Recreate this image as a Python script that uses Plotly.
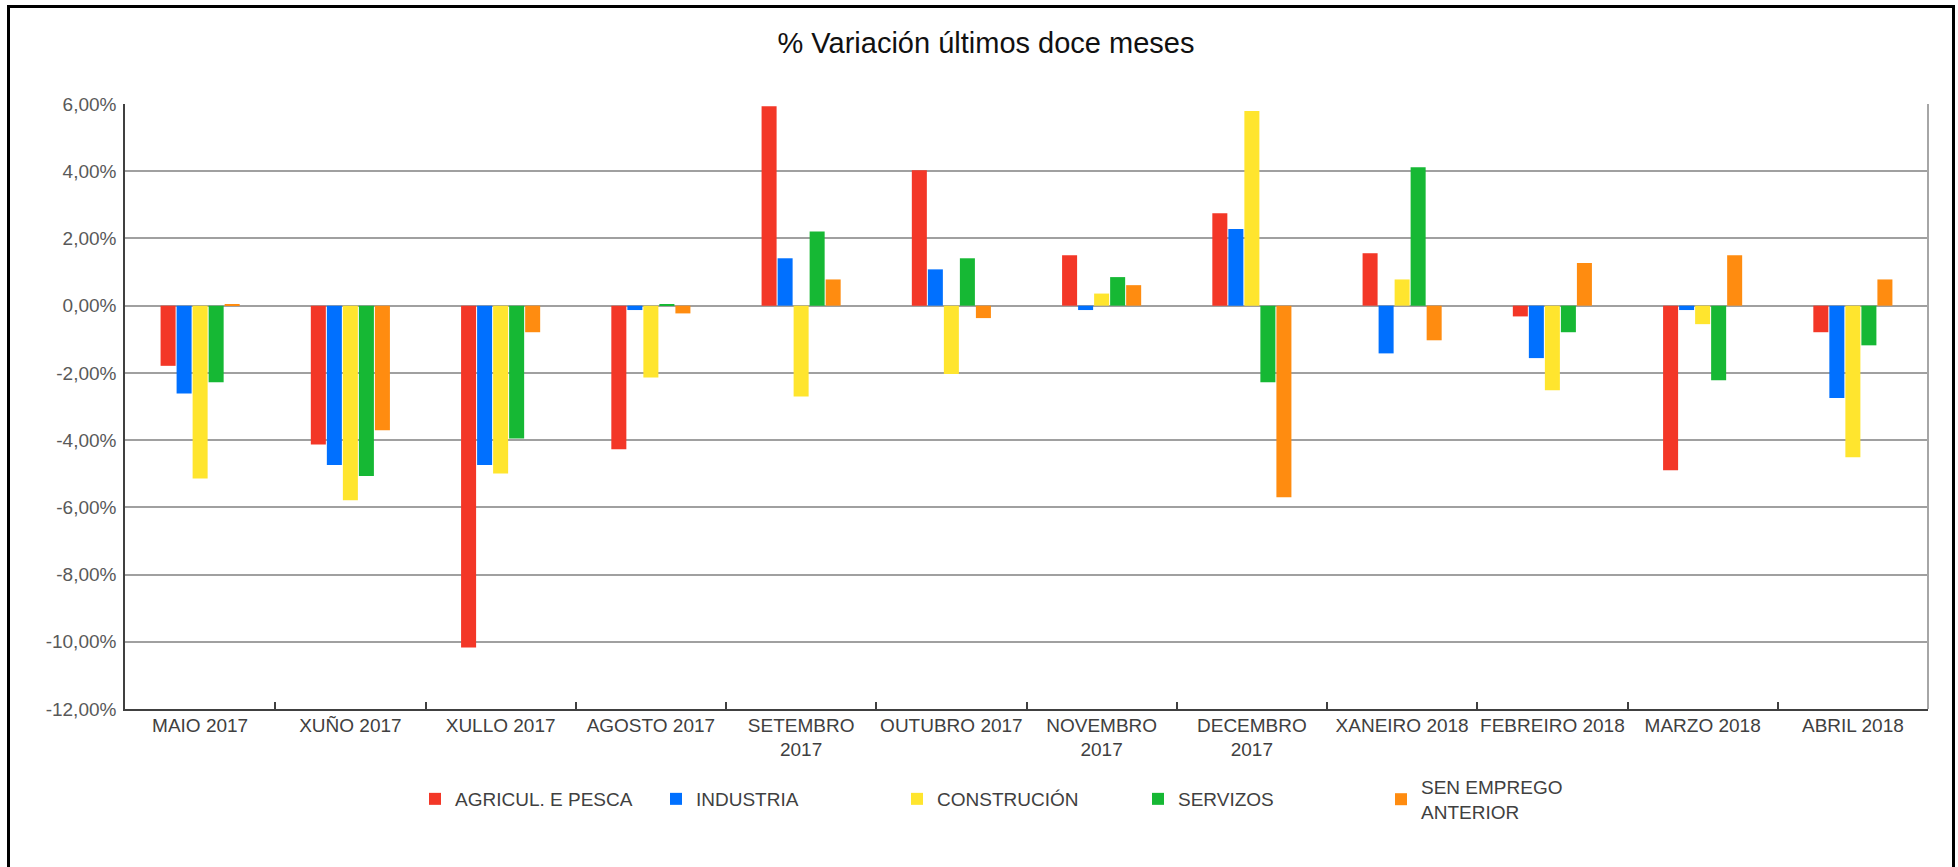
import plotly.graph_objects as go

months = ["MAIO 2017", "XUÑO 2017", "XULLO 2017", "AGOSTO 2017", "SETEMBRO<br>2017",
          "OUTUBRO 2017", "NOVEMBRO<br>2017", "DECEMBRO<br>2017", "XANEIRO 2018",
          "FEBREIRO 2018", "MARZO 2018", "ABRIL 2018"]

agricul = [-1.79, -4.13, -10.17, -4.27, 5.93, 4.03, 1.50, 2.75, 1.56, -0.32, -4.90, -0.79]
industria = [-2.61, -4.74, -4.74, -0.13, 1.41, 1.08, -0.13, 2.28, -1.42, -1.56, -0.13, -2.75]
construcion = [-5.14, -5.79, -4.99, -2.14, -2.70, -2.03, 0.36, 5.79, 0.78, -2.52, -0.55, -4.51]
servizos = [-2.28, -5.07, -3.95, 0.05, 2.21, 1.41, 0.85, -2.28, 4.12, -0.79, -2.22, -1.18]
sen_emprego = [0.05, -3.71, -0.79, -0.23, 0.78, -0.37, 0.61, -5.70, -1.03, 1.27, 1.50, 0.78]

series_names = ["AGRICUL. E PESCA", "INDUSTRIA", "CONSTRUCIÓN", "SERVIZOS", "SEN EMPREGO<br>ANTERIOR"]
series_values = [agricul, industria, construcion, servizos, sen_emprego]
series_colors = ["#F33727", "#0070FF", "#FFE52E", "#16B834", "#FF8C10"]
series_legend = ["legend", "legend", "legend", "legend", "legend2"]

y_tickvals = [6, 4, 2, 0, -2, -4, -6, -8, -10, -12]
y_ticktext = ["6,00%", "4,00%", "2,00%", "0,00%", "-2,00%", "-4,00%", "-6,00%", "-8,00%", "-10,00%", "-12,00%"]

FONT = "Liberation Sans, Arial, sans-serif"

fig = go.Figure()
for name, vals, col, lg in zip(series_names, series_values, series_colors, series_legend):
    fig.add_trace(go.Bar(x=months, y=vals, name=name, legend=lg,
                         marker=dict(color=col, line=dict(width=0)),
                         hovertemplate="%{x}: %{y:.2f}%<extra>" + name.replace("<br>", " ") + "</extra>"))

L, R, T, B = 125, 30, 104, 158
W, H = 1958, 867
pw = W - L - R
ph = H - T - B

def px_x(p):
    return (p - L) / pw

def px_y(p):
    return (H - B - p) / ph

legend_font = dict(family=FONT, size=19, color="#404040")

fig.update_layout(
    width=W, height=H,
    margin=dict(l=L, r=R, t=T, b=B),
    paper_bgcolor="white", plot_bgcolor="white",
    barmode="group", bargap=0.467, bargroupgap=0.0625,
    font=dict(family=FONT, size=19, color="#404040"),
    title=dict(text="% Variación últimos doce meses", x=986 / W, xanchor="center", xref="container",
               y=1 - 43 / H, yanchor="middle", yref="container",
               font=dict(family=FONT, size=29, color="#111111")),
    showlegend=True,
    legend=dict(orientation="h", x=px_x(415), xanchor="left", y=px_y(780), yanchor="top",
                font=legend_font, entrywidth=196, entrywidthmode="pixels",
                bgcolor="rgba(0,0,0,0)", traceorder="normal"),
    legend2=dict(orientation="h", x=px_x(1381), xanchor="left", y=px_y(768), yanchor="top",
                 font=legend_font, valign="middle", bgcolor="rgba(0,0,0,0)"),
    xaxis=dict(showline=True, linecolor="#404040", linewidth=1.5, ticks="inside", ticklen=7,
               tickcolor="#404040", tickwidth=1.5, tickson="boundaries", showgrid=False,
               tickangle=0, ticklabelstandoff=-2,
               tickfont=dict(family=FONT, size=19, color="#404040"), fixedrange=True),
    yaxis=dict(range=[-12, 6], tickvals=y_tickvals, ticktext=y_ticktext, showline=True,
               linecolor="#404040", linewidth=1.5, showgrid=True, gridcolor="#A0A0A0", gridwidth=1.5,
               zeroline=False, ticks="", ticklabelstandoff=3,
               tickfont=dict(family=FONT, size=19, color="#595959"), fixedrange=True),
    shapes=[
        dict(type="line", xref="paper", yref="paper", x0=1, x1=1, y0=0, y1=1,
             line=dict(color="#A6A6A6", width=2)),
        dict(type="rect", xref="paper", yref="paper", x0=px_x(8.5), x1=px_x(1953.5),
             y0=px_y(1000), y1=px_y(6.5), line=dict(color="black", width=3), fillcolor="rgba(0,0,0,0)"),
    ],
)

fig.write_html("out.html", config={"displayModeBar": False},
               post_script="document.body.style.margin='0';document.body.style.overflow='hidden';")
